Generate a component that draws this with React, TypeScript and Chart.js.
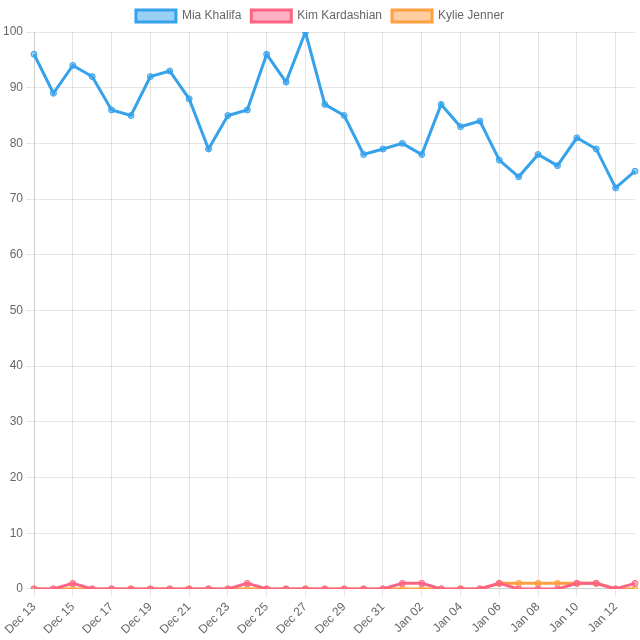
import React, { useEffect, useRef } from "react";
import { Chart, registerables } from "chart.js";

Chart.register(...registerables);

const labels = [
  "Dec 13", "Dec 14", "Dec 15", "Dec 16", "Dec 17", "Dec 18", "Dec 19", "Dec 20",
  "Dec 21", "Dec 22", "Dec 23", "Dec 24", "Dec 25", "Dec 26", "Dec 27", "Dec 28",
  "Dec 29", "Dec 30", "Dec 31", "Jan 01", "Jan 02", "Jan 03", "Jan 04", "Jan 05",
  "Jan 06", "Jan 07", "Jan 08", "Jan 09", "Jan 10", "Jan 11", "Jan 12", "Jan 13",
];

const miaKhalifa = [
  96, 89, 94, 92, 86, 85, 92, 93, 88, 79, 85, 86, 96, 91, 100, 87,
  85, 78, 79, 80, 78, 87, 83, 84, 77, 74, 78, 76, 81, 79, 72, 75,
];
const kimKardashian = [
  0, 0, 1, 0, 0, 0, 0, 0, 0, 0, 0, 1, 0, 0, 0, 0,
  0, 0, 0, 1, 1, 0, 0, 0, 1, 0, 0, 0, 1, 1, 0, 1,
];
const kylieJenner = [
  0, 0, 0, 0, 0, 0, 0, 0, 0, 0, 0, 0, 0, 0, 0, 0,
  0, 0, 0, 0, 0, 0, 0, 0, 1, 1, 1, 1, 1, 1, 0, 0,
];

export default function App() {
  const ref = useRef<HTMLCanvasElement>(null);
  useEffect(() => {
    document.body.style.margin = "0";
    const mk = (label: string, data: number[], c: string, bg: string) => ({
      label,
      data,
      borderColor: c,
      backgroundColor: bg,
      borderWidth: 3,
      pointRadius: 3,
      pointBorderWidth: 1,
      pointBackgroundColor: bg,
      pointBorderColor: c,
      tension: 0,
      fill: false,
    });
    const chart = new Chart(ref.current!, {
      type: "line",
      data: {
        labels,
        datasets: [
          mk("Mia Khalifa", miaKhalifa, "#36A2EB", "rgba(54,162,235,0.5)"),
          mk("Kim Kardashian", kimKardashian, "#FF6384", "rgba(255,99,132,0.5)"),
          mk("Kylie Jenner", kylieJenner, "#FF9F40", "rgba(255,159,64,0.5)"),
        ],
      },
      options: {
        animation: false,
        responsive: false,
        maintainAspectRatio: false,
        plugins: { legend: { position: "top" } },
        scales: {
          x: { ticks: { maxRotation: 45, minRotation: 45 } },
          y: { min: 0, max: 100, ticks: { stepSize: 10 } },
        },
      },
    });
    return () => chart.destroy();
  }, []);
  return <canvas ref={ref} width={640} height={640} style={{ display: "block" }} />;
}
